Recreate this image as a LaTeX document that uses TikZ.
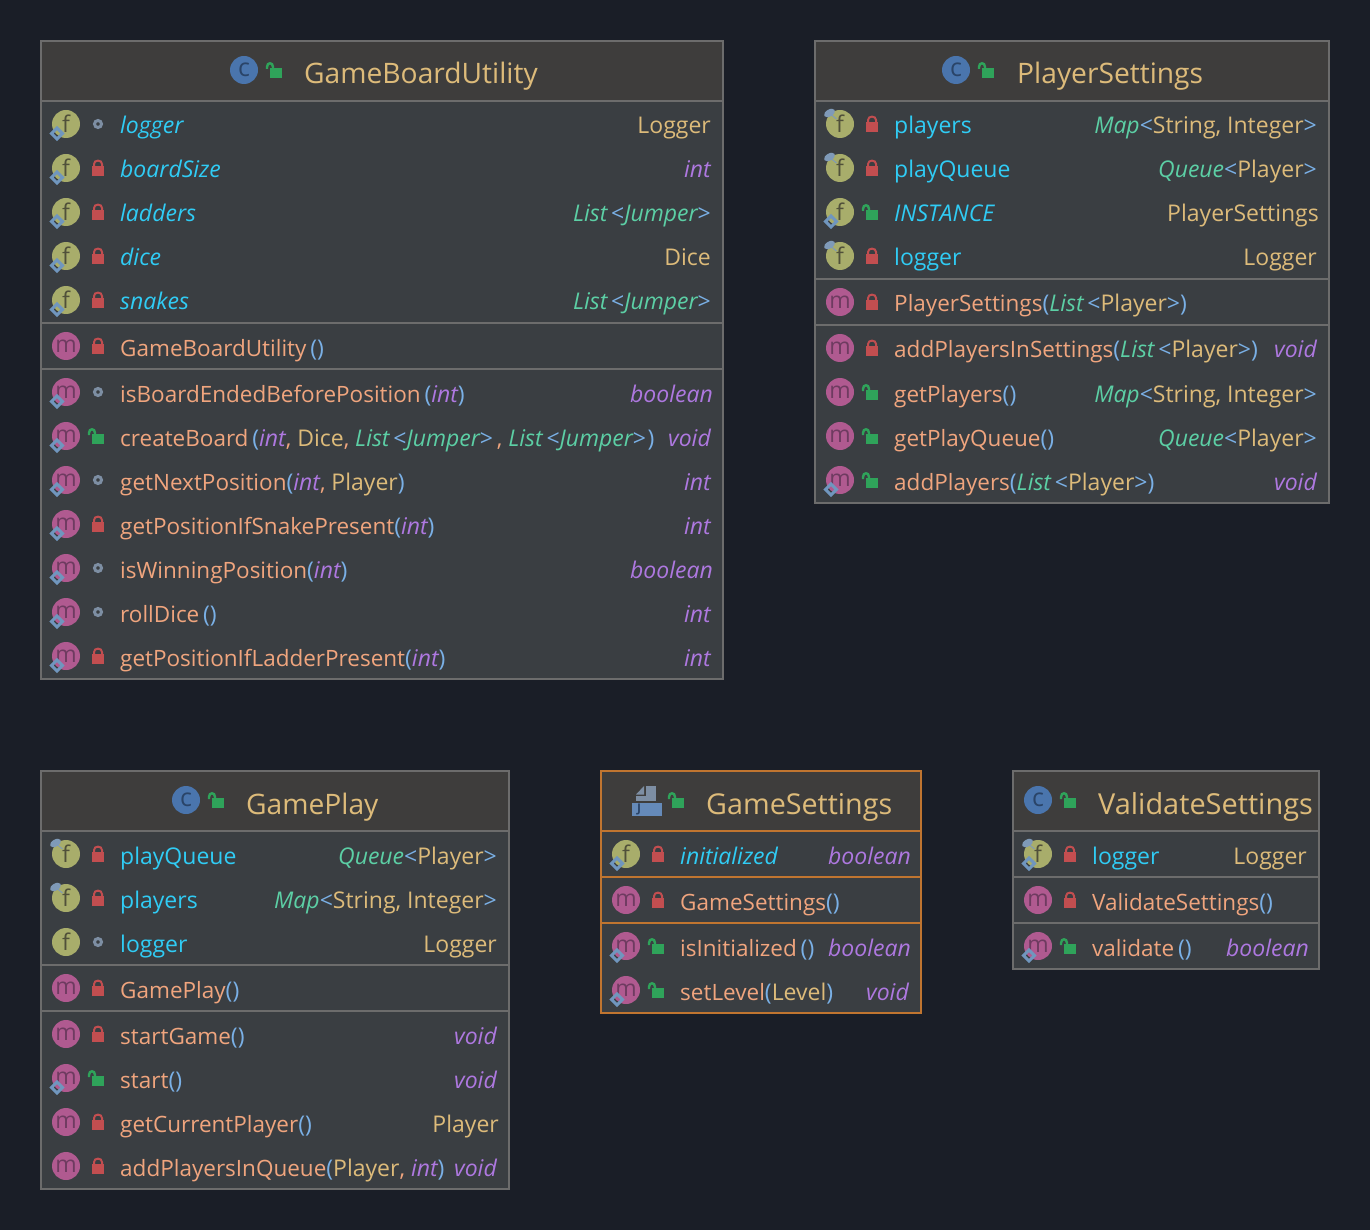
\documentclass[tikz,border=0pt]{standalone}
\usepackage{fontspec}
\setmainfont{Open Sans}
\usepackage{tikz}
\usetikzlibrary{positioning}

\definecolor{pagebg}{HTML}{1A1E27}
\definecolor{bodybg}{HTML}{3A3E42}
\definecolor{headbg}{HTML}{3E3D3C}
\definecolor{rulec}{HTML}{6C6C6C}
\definecolor{orangec}{HTML}{C07530}
\definecolor{titlec}{HTML}{DDBB7A}
\definecolor{fieldc}{HTML}{30CCF5}
\definecolor{methc}{HTML}{F0A57E}
\definecolor{parenc}{HTML}{7AB0E6}
\definecolor{primc}{HTML}{AE78E0}
\definecolor{genc}{HTML}{5CCFA5}
\definecolor{lockrc}{HTML}{C24E50}
\definecolor{lockgc}{HTML}{2FA35A}
\definecolor{dotc}{HTML}{7D8EA3}
\definecolor{decoc}{HTML}{7096BE}
\definecolor{pinc}{HTML}{7F9AB8}
\definecolor{ficoc}{HTML}{A8AD6B}
\definecolor{ficot}{HTML}{50503A}
\definecolor{micoc}{HTML}{B05A90}
\definecolor{micot}{HTML}{6E3B60}
\definecolor{cicoc}{HTML}{4A75AD}
\definecolor{cicot}{HTML}{2A4468}

% text colours
\newcommand{\mn}[1]{\textcolor{methc}{\fontsize{22.5}{26}\selectfont #1}}
\newcommand{\pr}[1]{\textcolor{parenc}{#1}}
\newcommand{\ty}[1]{\textcolor{primc}{\itshape #1}}
\newcommand{\cl}[1]{\textcolor{titlec}{#1}}
\newcommand{\gn}[1]{\textcolor{genc}{\itshape #1}}
\newcommand{\fd}[1]{\textcolor{fieldc}{#1}}
\newcommand{\fs}[1]{\textcolor{fieldc}{\itshape #1}}
\newcommand{\lt}{\pr{<}}
\newcommand{\gt}{\pr{>}}
\newcommand{\jump}{\gn{List}\,\lt\gn{Jumper}\gt}
\newcommand{\plist}{\gn{List}\,\lt\cl{Player}\gt}
\newcommand{\mapt}{\gn{Map}\lt\cl{String, Integer}\gt}
\newcommand{\quet}{\gn{Queue}\lt\cl{Player}\gt}
\newcommand{\nudge}[1]{#1\hspace*{-2pt}}

% visibility marks, drawn at the current \xL and \yr
\newcommand{\lockr}{\begin{scope}[shift={(\xL+57,\yr)}]
  \fill[lockrc] (-6,-4) rectangle (6,6);
  \draw[lockrc,line width=2pt] (-4,-4) -- (-4,-6) .. controls (-4,-10.5) and (4,-10.5) .. (4,-6) -- (4,-4);
\end{scope}}
\newcommand{\lockg}{\begin{scope}[shift={(\xL+57,\yr)}]
  \fill[lockgc] (-6,-4) rectangle (6,6);
  \draw[lockgc,line width=2.4pt] (-9,-3) -- (-9,-5) .. controls (-9,-10) and (-3,-10) .. (-3,-5) -- (-3,-4);
\end{scope}}
\newcommand{\dotv}{\draw[dotc,line width=3pt] (\xL+57,\yr-2) circle (3.5);}

% small marks on the icon
\newcommand{\dmd}{\draw[decoc,line width=3pt] (\xL+10.5,\yr+7.5) -- (\xL+16,\yr+2) -- (\xL+21.5,\yr+7.5) -- (\xL+16,\yr+13) -- cycle;}
\newcommand{\pin}{\begin{scope}[shift={(\xL+14.5,\yr-13)}]
  \fill[pinc,rotate=30] (0,0) ellipse [x radius=6, y radius=3.5];
  \draw[pinc,line width=1pt] (2,2) -- (7,6);
\end{scope}}

% one row: name, y, icon letter, visibility, marks, label, type
\newcommand{\member}[7]{\def\yr{#2}
  \node[ico#3] (#1-icon) at (\xL+25,\yr-2) {#3};
  #4 #5
  \node[rowtext] (#1-label) at (\xL+79,\yr+8) {#6};
  \node[typetext] (#1-type) at (\xR-12,\yr+8) {#7};
}

% class frame: left, top, right, bottom, rule colour
\newcommand{\classframe}[5]{
  \def\xL{#1}\def\xR{#3}\def\rulecol{#5}
  \fill[bodybg] (#1,#2) rectangle (#3,#4);
  \fill[headbg] (#1,#2) rectangle (#3,#2+60);
  \draw[#5,line width=2pt] (#1,#2) rectangle (#3,#4);
  \draw[#5,line width=2pt] (#1,#2+60) -- (#3,#2+60);
}
\newcommand{\hsep}[1]{\draw[\rulecol,line width=2pt] (\xL,#1) -- (\xR,#1);}

\begin{document}
\begin{tikzpicture}[
  x=1pt,y=-1pt,
  font=\fontsize{23}{26}\selectfont,
  ico/.style={circle, minimum size=28pt, inner sep=0pt, font=\fontsize{23}{23}\selectfont},
  icof/.style={ico, fill=ficoc, text=ficot},
  icom/.style={ico, fill=micoc, text=micot},
  icoc/.style={ico, fill=cicoc, text=cicot, font=\fontsize{25}{25}\selectfont},
  rowtext/.style={anchor=base west, inner sep=0pt},
  typetext/.style={anchor=base east, inner sep=0pt},
  titletext/.style={anchor=base west, inner sep=0pt, text=titlec, font=\fontsize{28.2}{30}\selectfont},
]

\useasboundingbox (0,0) rectangle (1370,1230);
\fill[pagebg] (0,0) rectangle (1370,1230);

% ---------------- GameBoardUtility ----------------
\classframe{41}{41}{723}{679}{rulec}
\hsep{323}
\hsep{369}
\node[icoc] (gbu-c) at (244,70) {c};
\def\xL{219}\def\yr{72}\lockg\def\xL{41}
\node[titletext] (gbu-title) at (304,84) {GameBoardUtility};

\member{gbu1}{126}{f}{\dotv}{\dmd}{\fs{logger}}{\cl{Logger}}
\member{gbu2}{170}{f}{\lockr}{\dmd}{\fs{boardSize}}{\ty{int}}
\member{gbu3}{214}{f}{\lockr}{\dmd}{\fs{ladders}}{\jump}
\member{gbu4}{258}{f}{\lockr}{\dmd}{\fs{dice}}{\cl{Dice}}
\member{gbu5}{302}{f}{\lockr}{\dmd}{\fs{snakes}}{\jump}
\member{gbu6}{348}{m}{\lockr}{}{\mn{GameBoardUtility}\,\pr{()}}{}
\member{gbu7}{394}{m}{\dotv}{\dmd}{\mn{isBoardEndedBeforePosition}\,\pr{(}\ty{int}\pr{)}}{\nudge{\ty{boolean}}}
\member{gbu8}{438}{m}{\lockg}{\dmd}{\mn{createBoard}\,\pr{(}\ty{int}\mn{,} \cl{Dice}\mn{,} \jump\,\mn{,} \jump\hspace{1.5pt}\pr{)}}{\ty{void}}
\member{gbu9}{482}{m}{\dotv}{\dmd}{\mn{getNextPosition}\pr{(}\ty{int}\mn{,} \cl{Player}\pr{)}}{\ty{int}}
\member{gbu10}{526}{m}{\lockr}{\dmd}{\mn{getPositionIfSnakePresent}\pr{(}\ty{int}\pr{)}}{\ty{int}}
\member{gbu11}{570}{m}{\dotv}{\dmd}{\mn{isWinningPosition}\pr{(}\ty{int}\pr{)}}{\nudge{\ty{boolean}}}
\member{gbu12}{614}{m}{\dotv}{\dmd}{\mn{rollDice}\,\pr{()}}{\ty{int}}
\member{gbu13}{658}{m}{\lockr}{\dmd}{\mn{getPositionIfLadderPresent}\pr{(}\ty{int}\pr{)}}{\ty{int}}

% ---------------- PlayerSettings ----------------
\classframe{815}{41}{1329}{503}{rulec}
\hsep{279}
\hsep{325}
\node[icoc] (ps-c) at (956,70) {c};
\def\xL{931}\def\yr{72}\lockg\def\xL{815}
\node[titletext] (ps-title) at (1017,84) {PlayerSettings};

\member{ps1}{126}{f}{\lockr}{\pin}{\fd{players}}{\mapt}
\member{ps2}{170}{f}{\lockr}{\pin}{\fd{playQueue}}{\quet}
\member{ps3}{214}{f}{\lockg}{\dmd}{\fs{INSTANCE}}{\nudge{\cl{PlayerSettings}}}
\member{ps4}{258}{f}{\lockr}{\pin}{\fd{logger}}{\cl{Logger}}
\member{ps5}{304}{m}{\lockr}{}{\mn{PlayerSettings}\pr{(}\plist\pr{)}}{}
\member{ps6}{350}{m}{\lockr}{}{\mn{addPlayersInSettings}\pr{(}\plist\pr{)}}{\ty{void}}
\member{ps7}{394}{m}{\lockg}{}{\mn{getPlayers}\pr{()}}{\mapt}
\member{ps8}{438}{m}{\lockg}{}{\mn{getPlayQueue}\pr{()}}{\quet}
\member{ps9}{482}{m}{\lockg}{\dmd}{\mn{addPlayers}\pr{(}\plist\pr{)}}{\ty{void}}

% ---------------- GamePlay ----------------
\classframe{41}{771}{509}{1189}{rulec}
\hsep{965}
\hsep{1011}
\node[icoc] (gp-c) at (186,800) {c};
\def\xL{161}\def\yr{802}\lockg\def\xL{41}
\node[titletext] (gp-title) at (246,814) {GamePlay};

\member{gp1}{856}{f}{\lockr}{\pin}{\fd{playQueue}}{\quet}
\member{gp2}{900}{f}{\lockr}{\pin}{\fd{players}}{\mapt}
\member{gp3}{944}{f}{\dotv}{}{\fd{logger}}{\cl{Logger}}
\member{gp4}{990}{m}{\lockr}{}{\mn{GamePlay}\pr{()}}{}
\member{gp5}{1036}{m}{\lockr}{}{\mn{startGame}\pr{()}}{\ty{void}}
\member{gp6}{1080}{m}{\lockg}{\dmd}{\mn{start}\pr{()}}{\ty{void}}
\member{gp7}{1124}{m}{\lockr}{}{\mn{getCurrentPlayer}\pr{()}}{\nudge{\cl{Player}}}
\member{gp8}{1168}{m}{\lockr}{}{\mn{addPlayersInQueue}\pr{(}\cl{Player}\mn{,} \ty{int}\pr{)}}{\ty{void}}

% ---------------- GameSettings ----------------
\classframe{601}{771}{921}{1013}{orangec}
\hsep{877}
\hsep{923}
% file icon with the J
\fill[dotc] (636,794.5) -- (644,786) -- (644,794.5) -- cycle;
\fill[dotc] (646,786) rectangle (656,796);
\fill[dotc] (636,796) rectangle (656,801);
\fill[cicoc!85!white] (632,803) rectangle (662,816);
\node[inner sep=0pt, text=cicot, font=\bfseries\fontsize{12}{12}\selectfont] (gs-j) at (639,809.5) {J};
\def\xL{621}\def\yr{802}\lockg\def\xL{601}
\node[titletext, font=\fontsize{28.7}{30}\selectfont] (gs-title) at (706,814) {GameSettings};

\member{gs1}{856}{f}{\lockr}{\dmd}{\fs{initialized}}{\nudge{\ty{boolean}}}
\member{gs2}{902}{m}{\lockr}{}{\mn{GameSettings}\pr{()}}{}
\member{gs3}{948}{m}{\lockg}{\dmd}{\mn{isInitialized}\,\pr{()}}{\nudge{\ty{boolean}}}
\member{gs4}{992}{m}{\lockg}{\dmd}{\mn{setLevel}\pr{(}\cl{Level}\pr{)}}{\ty{void}}

% ---------------- ValidateSettings ----------------
\classframe{1013}{771}{1319}{969}{rulec}
\hsep{877}
\hsep{923}
\node[icoc] (vs-c) at (1038,800) {c};
\def\xL{1013}\def\yr{802}\lockg\def\xL{1013}
\node[titletext, font=\fontsize{28.9}{30}\selectfont] (vs-title) at (1098,814) {ValidateSettings};

\member{vs1}{856}{f}{\lockr}{\pin\dmd}{\fd{logger}}{\cl{Logger}}
\member{vs2}{902}{m}{\lockr}{}{\mn{ValidateSettings}\pr{()}}{}
\member{vs3}{948}{m}{\lockg}{\dmd}{\mn{validate}\,\pr{()}}{\nudge{\ty{boolean}}}

\end{tikzpicture}
\end{document}
